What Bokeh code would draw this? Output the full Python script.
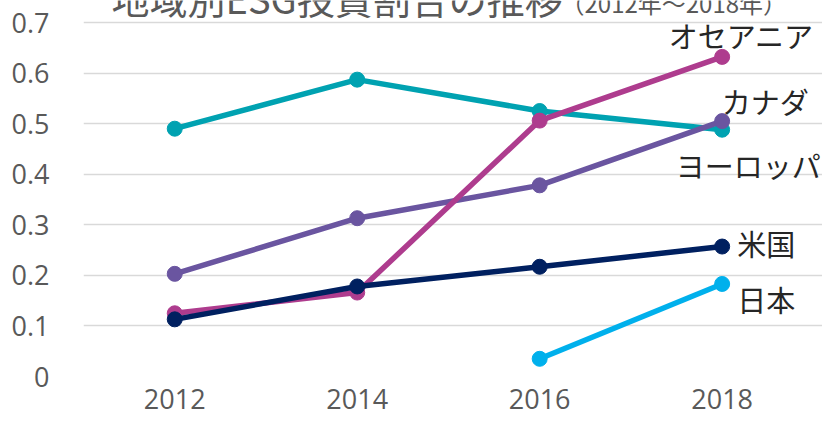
from bokeh.plotting import figure
from bokeh.models import Range1d, FixedTicker, ColumnDataSource, LabelSet, Label
from bokeh.core.properties import value
from bokeh.embed import file_html
from bokeh.resources import INLINE

years = [2012, 2014, 2016, 2018]
year_labels = ["2012", "2014", "2016", "2018"]
europe = [0.490, 0.587, 0.525, 0.488]
canada = [0.203, 0.313, 0.378, 0.505]
oceania = [0.125, 0.166, 0.506, 0.632]
usa = [0.113, 0.178, 0.217, 0.257]
japan = [None, None, 0.035, 0.183]

series_names = ["ヨーロッパ", "カナダ", "オセアニア", "米国", "日本"]
series_values = [europe, canada, oceania, usa, japan]
series_colors = ["#00A2B1", "#6A55A0", "#AE3C8E", "#002060", "#00B0EC"]
label_dx = [26, 43, 19, 44, 44]
label_dy = [-35, 20, 22, 4, -15]

y_ticks = [0, 0.1, 0.2, 0.3, 0.4, 0.5, 0.6, 0.7]
y_tick_labels = ["0", "0.1", "0.2", "0.3", "0.4", "0.5", "0.6", "0.7"]

title_main = "地域別ESG投資割合の推移"
title_sub = "（2012年～2018年）"

# frame extends 22px above the 0.7 gridline so the (cropped) title remains visible
frame_h = 376
y_top = 0.7 * frame_h / 354

p = figure(x_range=Range1d(2011, 2019.1), y_range=Range1d(0, y_top),
           frame_width=739, frame_height=frame_h,
           min_border_left=83, min_border_right=0,
           min_border_top=0, min_border_bottom=50,
           output_backend="svg", toolbar_location=None,
           background_fill_color="white", border_fill_color="white")
p.outline_line_color = None

p.xaxis.ticker = FixedTicker(ticks=years)
p.xaxis.major_label_overrides = {t: s for t, s in zip(years, year_labels)}
p.yaxis.ticker = FixedTicker(ticks=y_ticks)
p.yaxis.major_label_overrides = {t: s for t, s in zip(y_ticks, y_tick_labels)}
for ax in (p.xaxis[0], p.yaxis[0]):
    ax.axis_line_color = None
    ax.major_tick_line_color = None
    ax.minor_tick_line_color = None
    ax.major_label_text_font = "Open Sans"
    ax.major_label_text_font_size = "27px"
    ax.major_label_text_color = "#595959"
p.yaxis.major_label_standoff = 28
p.xaxis.major_label_standoff = 6
p.xgrid.grid_line_color = None
p.ygrid.grid_line_color = "#D9D9D9"
p.ygrid.grid_line_width = 1.5

lx, ly, lt, ldx, ldy = [], [], [], [], []
for name, vals, col, dx, dy in zip(series_names, series_values, series_colors, label_dx, label_dy):
    xs = [y for y, v in zip(years, vals) if v is not None]
    ys = [v for v in vals if v is not None]
    p.line(xs, ys, line_color=col, line_width=5.5)
    p.scatter(xs, ys, size=15, fill_color=col, line_color=col)
    lx.append(xs[-1]); ly.append(ys[-1]); lt.append(name)
    ldx.append(dx); ldy.append(dy)

src = ColumnDataSource(dict(x=lx, y=ly, t=lt, dx=ldx, dy=ldy))
labels = LabelSet(x="x", y="y", text="t", source=src, x_offset="dx", y_offset="dy",
                  text_font=value("Noto Sans CJK JP"), text_font_size="29px",
                  text_color="#262626", text_align="center", text_baseline="middle")
p.add_layout(labels)

p.add_layout(Label(x=28, y=379, x_units="screen", y_units="screen", text=title_main,
                   text_font="Noto Sans CJK JP", text_font_size="38px",
                   text_color="#595959", text_baseline="middle", text_align="left"))
p.add_layout(Label(x=477, y=374, x_units="screen", y_units="screen", text=title_sub,
                   text_font="Noto Sans CJK JP", text_font_size="24px",
                   text_color="#595959", text_baseline="middle", text_align="left"))

open("out.html", "w").write(file_html(p, INLINE))
